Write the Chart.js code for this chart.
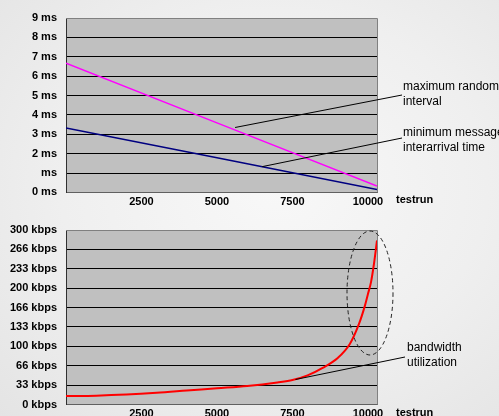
<!DOCTYPE html>
<html>
<head>
<meta charset="utf-8">
<script src="https://cdn.jsdelivr.net/npm/chart.js@4.4.1/dist/chart.umd.min.js"></script>
<style>
    html, body { margin: 0; padding: 0; overflow: hidden; }
    body {
        width: 499px; height: 416px; position: relative;
        background: radial-gradient(ellipse at 55% 45%, #f8f8f8 0%, #efefef 55%, #e4e4e4 100%);
        font-family: "Liberation Sans", Arial, sans-serif;
    }
    .box { position: absolute; left: 0; width: 499px; }
</style>
</head>
<body>
<div class="box" style="top:0;height:208px"><canvas id="Canvas-Top" width="499" height="208"></canvas></div>
<div class="box" style="top:208px;height:230px"><canvas id="Canvas-Bottom" width="499" height="230"></canvas></div>
<script>
// testrun positions (x axis)
var xTicks = [2500, 5000, 7500, 10000];

// top chart: intervals in ms
var intervalRuns = [0, 5000, 10300];
var maxRandomInterval = [6.67, 3.59, 0.33];
var minInterarrival = [3.33, 1.79, 0.15];
var msLabels = ['0 ms', 'ms', '2 ms', '3 ms', '4 ms', '5 ms', '6 ms', '7 ms', '8 ms', '9 ms'];

// bottom chart: bandwidth in kbps
var bwRuns = [0, 1000, 2000, 3000, 4000, 5000, 6000, 7000, 7500, 8000, 8500, 9000, 9400, 9700, 9900, 10000, 10100, 10200, 10300];
var bandwidth = [14.6, 15.2, 17, 20, 24, 28, 32, 38, 42, 50, 63, 80, 104, 138, 170, 190, 210, 242, 282];
var kbpsTicks = [0, 33.33, 66.67, 100, 133.33, 166.67, 200, 233.33, 266.67, 300];
var kbpsLabels = ['0 kbps', '33 kbps', '66 kbps', '100 kbps', '133 kbps', '166 kbps', '200 kbps', '233 kbps', '266 kbps', '300 kbps'];

var FONT = '"Liberation Sans", Arial, sans-serif';

function toPoints(xs, ys) {
    return xs.map(function (x, i) { return { x: x, y: ys[i] }; });
}

// grey plot area with grey frame, plus notes and leader lines
var plotFrame = {
    id: 'plotFrame',
    beforeDraw: function (chart) {
        var a = chart.chartArea, ctx = chart.ctx;
        ctx.save();
        ctx.fillStyle = '#c0c0c0';
        ctx.fillRect(a.left, a.top, a.right - a.left, a.bottom - a.top);
        ctx.restore();
    },
    beforeDatasetsDraw: function (chart) {
        var a = chart.chartArea, ctx = chart.ctx;
        ctx.save();
        ctx.strokeStyle = '#808080';
        ctx.lineWidth = 1;
        ctx.beginPath();
        ctx.moveTo(a.left, a.top + 0.5);
        ctx.lineTo(a.right + 0.5, a.top + 0.5);
        ctx.lineTo(a.right + 0.5, a.bottom);
        ctx.stroke();
        ctx.restore();
    },
    afterDraw: function (chart) {
        var notes = chart.options.plugins.plotFrame.notes || [];
        var xs = chart.scales.x, ys = chart.scales.y, ctx = chart.ctx;
        var a = chart.chartArea;
        ctx.save();
        ctx.font = '12px ' + FONT;
        ctx.fillStyle = '#000';
        ctx.textBaseline = 'middle';
        ctx.textAlign = 'left';
        notes.forEach(function (n) {
            ctx.strokeStyle = '#000';
            ctx.lineWidth = 1;
            ctx.beginPath();
            ctx.moveTo(n.from[0], n.from[1]);
            ctx.lineTo(xs.getPixelForValue(n.to[0]), ys.getPixelForValue(n.to[1]));
            ctx.stroke();
            n.lines.forEach(function (t, i) {
                ctx.fillText(t, n.textX, n.textY + i * 15);
            });
        });
        // axis title
        ctx.font = 'bold 11px ' + FONT;
        ctx.fillText('testrun', a.right + 19, a.bottom + 8);
        // dashed ellipse
        var el = chart.options.plugins.plotFrame.ellipse;
        if (el) {
            ctx.setLineDash([4, 3]);
            ctx.strokeStyle = '#222';
            ctx.beginPath();
            ctx.ellipse(el.cx, el.cy, el.rx, el.ry, 0, 0, Math.PI * 2);
            ctx.stroke();
        }
        ctx.restore();
    }
};

function baseOptions(yOpts, axisH, topPad, frame) {
    return {
        responsive: false,
        animation: false,
        layout: { padding: { left: 0, top: topPad, right: 122, bottom: 0 } },
        plugins: {
            legend: { display: false },
            tooltip: { enabled: false },
            plotFrame: frame
        },
        elements: { point: { radius: 0 } },
        scales: {
            x: {
                type: 'linear',
                min: 0,
                max: 10300,
                afterBuildTicks: function (scale) {
                    scale.ticks = xTicks.map(function (v) { return { value: v }; });
                },
                afterFit: function (scale) { scale.height = axisH; },
                grid: { display: false, drawTicks: false },
                border: { color: '#606060', width: 1 },
                ticks: {
                    padding: 3,
                    maxRotation: 0,
                    autoSkip: false,
                    color: '#000',
                    font: { family: FONT, size: 11, weight: 'bold' },
                    callback: function (v) { return String(v); }
                }
            },
            y: yOpts
        }
    };
}

var topY = {
    min: 0,
    max: 9,
    afterFit: function (scale) { scale.width = 66; },
    grid: { color: '#000', drawTicks: false, lineWidth: 1 },
    border: { color: '#303030', width: 1 },
    ticks: {
        stepSize: 1,
        padding: 9,
        color: '#000',
        font: { family: FONT, size: 11, weight: 'bold' },
        callback: function (v) { return msLabels[Math.round(v)]; }
    }
};

var topChart = new Chart(document.getElementById('Canvas-Top').getContext('2d'), {
    type: 'scatter',
    data: {
        datasets: [
            {
                label: 'maximum random interval',
                data: toPoints(intervalRuns, maxRandomInterval),
                showLine: true,
                borderColor: '#ff00ff',
                borderWidth: 1.5
            },
            {
                label: 'minimum message interarrival time',
                data: toPoints(intervalRuns, minInterarrival),
                showLine: true,
                borderColor: '#000080',
                borderWidth: 1.5
            }
        ]
    },
    options: baseOptions(topY, 15, 18, {
        notes: [
            { lines: ['maximum random', 'interval'], textX: 403, textY: 87, from: [402, 95], to: [5600, 3.35] },
            { lines: ['minimum message', 'interarrival time'], textX: 403, textY: 133, from: [402, 138], to: [6500, 1.33] }
        ]
    }),
    plugins: [plotFrame]
});

var bottomY = {
    min: 0,
    max: 300,
    afterBuildTicks: function (scale) {
        scale.ticks = kbpsTicks.map(function (v) { return { value: v }; });
    },
    afterFit: function (scale) { scale.width = 66; },
    grid: { color: '#000', drawTicks: false, lineWidth: 1 },
    border: { color: '#303030', width: 1 },
    ticks: {
        padding: 9,
        color: '#000',
        font: { family: FONT, size: 11, weight: 'bold' },
        callback: function (v, i) { return kbpsLabels[i]; }
    }
};

var bottomChart = new Chart(document.getElementById('Canvas-Bottom').getContext('2d'), {
    type: 'scatter',
    data: {
        datasets: [{
            label: 'bandwidth utilization',
            data: toPoints(bwRuns, bandwidth),
            showLine: true,
            cubicInterpolationMode: 'monotone',
            borderColor: '#ff0000',
            borderWidth: 2
        }]
    },
    options: baseOptions(bottomY, 33.5, 22, {
        notes: [
            { lines: ['bandwidth', 'utilization'], textX: 407, textY: 140, from: [405, 149], to: [7600, 43] }
        ],
        ellipse: { cx: 370, cy: 85, rx: 23, ry: 62 }
    }),
    plugins: [plotFrame]
});
</script>
</body>
</html>
